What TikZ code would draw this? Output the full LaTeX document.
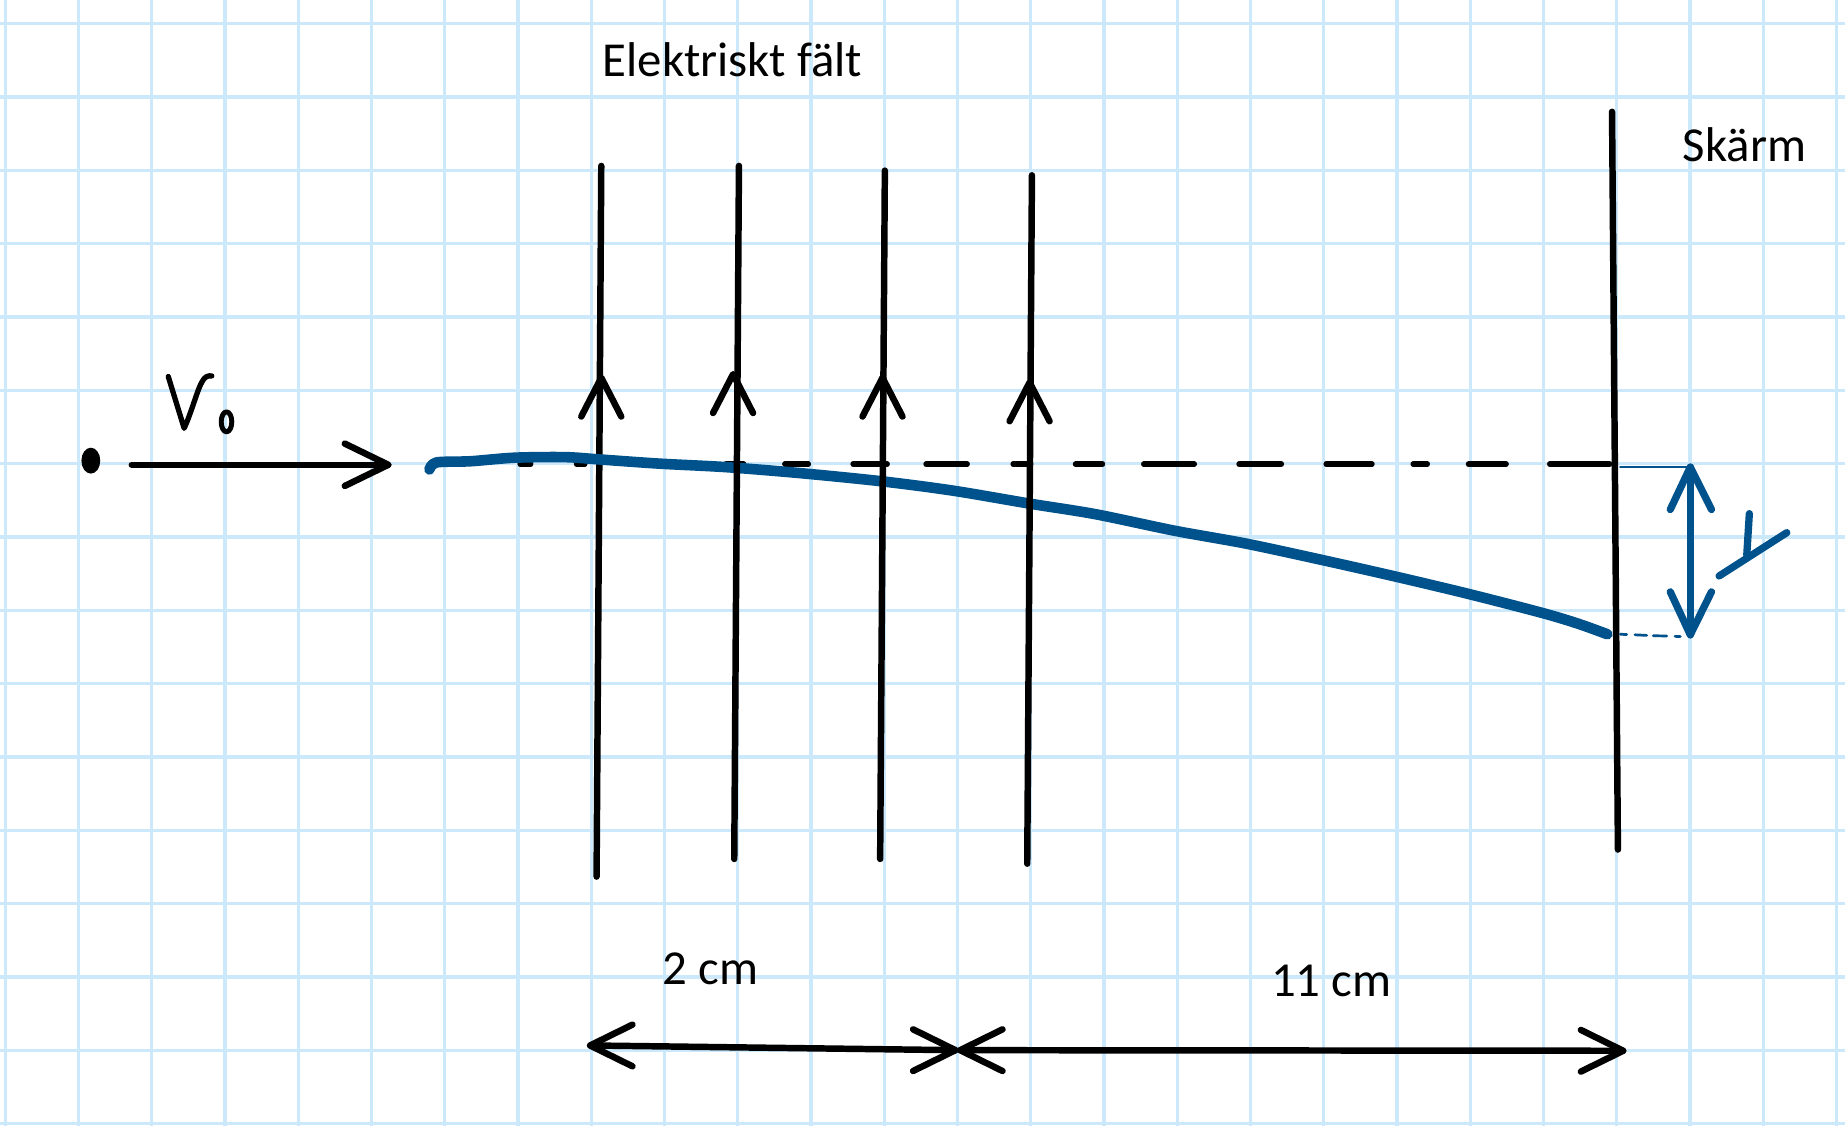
\documentclass[tikz,border=0pt]{standalone}
\usepackage{fontspec}
\setmainfont{Carlito}
\usetikzlibrary{calc}
\definecolor{gridblue}{RGB}{204,233,252}
\definecolor{penblue}{RGB}{0,82,140}
\tikzset{
  gridline/.style={draw=gridblue, line width=2.8pt},
  ink/.style={draw=black, line width=5.5pt, line cap=round, line join=round},
  dashink/.style={draw=black, line width=4.6pt, line cap=round},
  blueink/.style={draw=penblue, line width=6.2pt, line cap=round, line join=round},
  thinblue/.style={draw=penblue, line width=2.3pt, line cap=round},
  lbl/.style={font=\fontsize{41.5}{50}\selectfont, inner sep=0pt, anchor=base west},
}
\begin{document}
\begin{tikzpicture}[x=1pt,y=-1pt]
\useasboundingbox (0,0) rectangle (1568,957);
\fill[white] (0,0) rectangle (1568,957);
\begin{scope}
\clip (0,0) rectangle (1568,957);
% grid
\foreach \k in {0,...,25} \draw[gridline] ({4.5+62.25*\k},0) -- ({4.5+62.25*\k},957);
\foreach \k in {0,...,15} \draw[gridline] (0,{20+62.33*\k}) -- (1568,{20+62.33*\k});
\end{scope}

% texts
\node[lbl] (efield) at (512,64.6) {Elektriskt fält};
\node[lbl] (skarm) at (1430,137) {Skärm};
\node[lbl] (d2) at (563,837) {2 cm};
\node[lbl] (d11) at (1080,847) {11 cm};

% dashed undeflected line
\foreach \a/\b in {442/451, 490/497, 617/632, 667/687, 725/754, 787/822, 861/876, 914/937, 972/1015, 1053/1089, 1127/1166, 1201/1213, 1248/1280, 1317/1368}
  \draw[dashink] (\a,394.5) -- (\b,394.5);

% first field line (under the trajectory)
\coordinate (ft1) at (511,141);
\coordinate (fb1) at (507,745);
\coordinate (fa1) at (511,321);
\draw[ink] (fb1) -- (ft1);
\draw[ink] ($(fa1)+(-17,33)$) -- (fa1) -- ($(fa1)+(17,33)$);

% deflected trajectory
\draw[penblue, line width=9pt, line cap=round, line join=round]
  plot[smooth, tension=0.5] coordinates {(365,399) (371,393) (400,392) (437,389) (480,388.5) (510,390.5) (560,394) (617,397) (679,402) (749,409) (810,417) (875,428) (931,437) (998,451) (1059,462) (1124,476) (1186,490) (1249,505) (1311,521) (1341,530) (1366,539)};

% particle and velocity
\fill (77.2,391.5) ellipse [x radius=8, y radius=11];
\coordinate (v0s) at (112,395);
\coordinate (v0e) at (330,395);
\draw[ink] (v0s) -- (v0e);
\draw[ink] (293,377) -- (v0e) -- (293,413);
% V_0 handwriting
\draw[ink, line width=4.5pt] (143,320) -- (156.5,364) .. controls (163,350) and (168,330) .. (172,324) .. controls (174,320) and (177,319) .. (180,319.5);
\draw[ink, line width=4.2pt] (192.5,358.5) ellipse [x radius=4.5, y radius=8.5];

% remaining field lines
\foreach \xt/\yt/\xb/\yb/\xa/\ya [count=\i from 2] in {628/141/624/730/623/318, 752/145/748/730/750/321, 877/149/873/734/875/325}{
  \coordinate (ft\i) at (\xt,\yt);
  \coordinate (fb\i) at (\xb,\yb);
  \coordinate (fa\i) at (\xa,\ya);
  \draw[ink] (fb\i) -- (ft\i);
  \draw[ink] ($(fa\i)+(-17,33)$) -- (fa\i) -- ($(fa\i)+(17,33)$);
}

% screen
\coordinate (st) at (1370,95);
\coordinate (sb) at (1375,722);
\draw[ink] (st) -- (sb);

% y deflection marker
\coordinate (yt) at (1436.5,397);
\coordinate (yb) at (1436.5,539.5);
\draw[thinblue] (1377,397) -- (yt);
\draw[thinblue] (1377,539) -- (1382.5,539.3);
\draw[thinblue] (1389.5,539.5) -- (1399.5,540);
\draw[thinblue] (1405,540.3) -- (1416.5,540.5);
\draw[thinblue] (1423.5,540.8) -- (1428,541);
\draw[blueink] (yt) -- (yb);
\draw[blueink] (1419.5,433) -- (yt) -- (1454.5,433);
\draw[blueink] (1419.5,503) -- (yb) -- (1454.5,503);
% handwritten y
\draw[blueink] (1486.7,436.5) -- (1484.5,471.7);
\draw[blueink] (1461,489.5) -- (1518.5,452.7);

% dimension arrows
\coordinate (a1) at (501.5,888.5);
\coordinate (a2) at (812,892.5);
\coordinate (b1) at (816,892.5);
\coordinate (b2) at (1379.5,893);
\draw[ink] (a1) -- (a2);
\draw[ink] ($(a1)+(36,-17.7)$) -- (a1) -- ($(a1)+(36,17.7)$);
\draw[ink] ($(a2)+(-36,-17.7)$) -- (a2) -- ($(a2)+(-36,17.7)$);
\draw[ink] (b1) -- (b2);
\draw[ink] ($(b1)+(36,-17.7)$) -- (b1) -- ($(b1)+(36,17.7)$);
\draw[ink] ($(b2)+(-36,-17.7)$) -- (b2) -- ($(b2)+(-36,17.7)$);
\end{tikzpicture}
\end{document}
